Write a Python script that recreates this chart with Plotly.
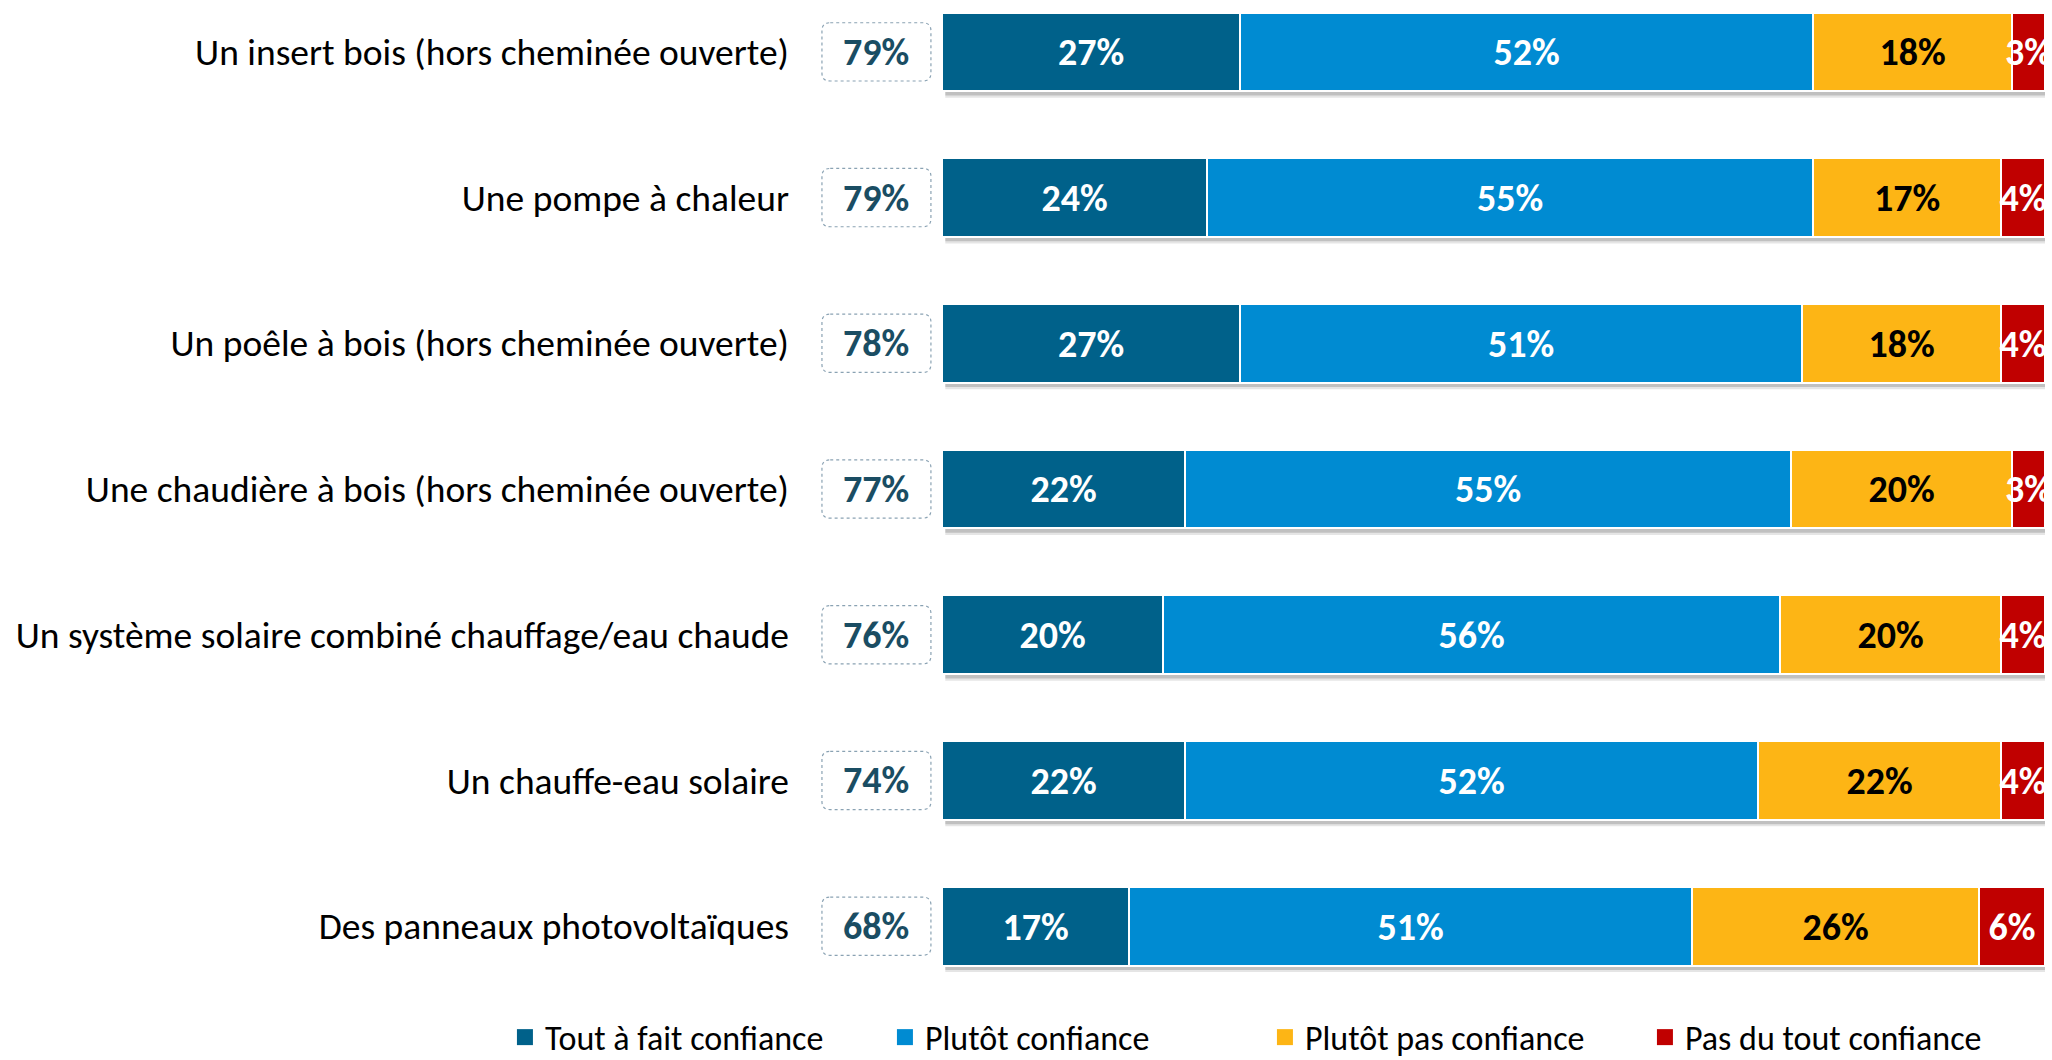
import plotly.graph_objects as go

categories = [
    "Un insert bois (hors cheminée ouverte)",
    "Une pompe à chaleur",
    "Un poêle à bois (hors cheminée ouverte)",
    "Une chaudière à bois (hors cheminée ouverte)",
    "Un système solaire combiné chauffage/eau chaude",
    "Un chauffe-eau solaire",
    "Des panneaux photovoltaïques",
]
tout_a_fait = [27, 24, 27, 22, 20, 22, 17]
plutot = [52, 55, 51, 55, 56, 52, 51]
plutot_pas = [18, 17, 18, 20, 20, 22, 26]
pas_du_tout = [3, 4, 4, 3, 4, 4, 6]
totals = [79, 79, 78, 77, 76, 74, 68]
series_names = ["Tout à fait confiance", "Plutôt confiance", "Plutôt pas confiance", "Pas du tout confiance"]

series = [tout_a_fait, plutot, plutot_pas, pas_du_tout]
colors = ["#00618A", "#008BD2", "#FDB515", "#C00000"]
text_colors = ["white", "white", "black", "white"]
FONT = "Carlito, Lato, sans-serif"

ypos = list(range(len(categories)))
BAR_W = 0.54

fig = go.Figure()
for name, vals, col, tcol in zip(series_names, series, colors, text_colors):
    fig.add_trace(go.Bar(
        y=ypos, x=vals, name=name, orientation="h",
        marker=dict(color=col, line=dict(color="white", width=2)),
        width=BAR_W,
        text=[f"{v}%" for v in vals],
        textposition="inside", insidetextanchor="middle", textangle=0,
        textfont=dict(family=FONT, size=38, color=tcol, weight="bold"),
        cliponaxis=False, showlegend=False,
        hoverinfo="skip",
    ))
# legend entries (square swatches)
for name, col in zip(series_names, colors):
    fig.add_trace(go.Scatter(
        x=[None], y=[None], mode="markers", name=name,
        marker=dict(symbol="square", size=16, color=col),
        showlegend=True, hoverinfo="skip",
    ))

shapes = []
annotations = []
for i, t in enumerate(totals):
    # soft shadow under the bar
    for off, op in [(0.045, 0.10), (0.03, 0.16)]:
        shapes.append(dict(type="rect", xref="x", yref="y", layer="below",
                           x0=0.3, x1=100.3, y0=i - BAR_W / 2 + off, y1=i + BAR_W / 2 + off,
                           fillcolor=f"rgba(0,0,0,{op})", line=dict(width=0)))
    # rounded total box
    x0, x1, y0, y1 = -10.88, -1.0, i - 0.2, i + 0.2
    rx, ry = 0.75, 0.055
    path = (f"M {x0+rx},{y0} L {x1-rx},{y0} Q {x1},{y0} {x1},{y0+ry} "
            f"L {x1},{y1-ry} Q {x1},{y1} {x1-rx},{y1} L {x0+rx},{y1} "
            f"Q {x0},{y1} {x0},{y1-ry} L {x0},{y0+ry} Q {x0},{y0} {x0+rx},{y0} Z")
    shapes.append(dict(type="path", xref="x", yref="y", path=path,
                       fillcolor="white", line=dict(color="#8AA2B3", width=1.2, dash="dot")))
    annotations.append(dict(x=(x0 + x1) / 2, y=i, xref="x", yref="y", text=f"{t}%",
                            showarrow=False,
                            font=dict(family=FONT, size=38, color="#1A4D63", weight="bold")))

fig.update_layout(
    barmode="stack",
    width=2052, height=1060,
    margin=dict(l=800, r=7, t=0, b=70, autoexpand=False),
    paper_bgcolor="white", plot_bgcolor="white",
    bargap=0,
    shapes=shapes, annotations=annotations,
    uniformtext=dict(minsize=38, mode="show"),
    xaxis=dict(range=[-12.87, 100], visible=False, showgrid=False, zeroline=False),
    yaxis=dict(range=[6.438, -0.356], tickvals=ypos, ticktext=categories,
               ticks="", showgrid=False, zeroline=False, showline=False,
               ticklabelstandoff=10,
               tickfont=dict(family=FONT, size=37.5, color="black")),
    legend=dict(orientation="h", x=-0.237, xanchor="left", y=-0.048, yanchor="middle",
                traceorder="normal", font=dict(family=FONT, size=34, color="black"),
                entrywidth=335, entrywidthmode="pixels", itemsizing="trace"),
    showlegend=True,
)

fig.write_html("out.html", config={"displayModeBar": False},
               post_script="document.body.style.margin='0';document.body.style.overflow='hidden';")
